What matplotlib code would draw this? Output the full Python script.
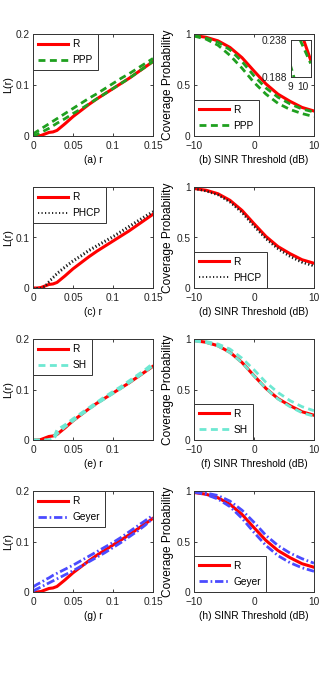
import matplotlib
matplotlib.use("Agg")
import matplotlib.pyplot as plt

plt.rcParams['font.family'] = ['Liberation Sans', 'DejaVu Sans']
plt.rcParams['axes.unicode_minus'] = True

# ---------------- data ----------------
r = [0, 0.005, 0.01, 0.015, 0.02, 0.025, 0.03, 0.04, 0.05, 0.06, 0.07,
     0.08, 0.09, 0.1, 0.11, 0.12, 0.13, 0.14, 0.15]
L_R = [0, 0, 0.001, 0.004, 0.007, 0.008, 0.011, 0.024, 0.038, 0.05, 0.062,
       0.073, 0.083, 0.093, 0.103, 0.113, 0.124, 0.135, 0.146]
L_PPP_hi = [0.004, 0.009, 0.014, 0.019, 0.024, 0.029, 0.034, 0.044, 0.054, 0.064, 0.074,
            0.083, 0.093, 0.103, 0.113, 0.122, 0.132, 0.142, 0.152]
L_PPP_lo = [0, 0.003, 0.007, 0.011, 0.015, 0.02, 0.025, 0.034, 0.044, 0.053, 0.063,
            0.073, 0.083, 0.093, 0.103, 0.113, 0.124, 0.135, 0.146]
L_PHCP_hi = [0, 0, 0, 0.004, 0.014, 0.022, 0.03, 0.043, 0.055, 0.065, 0.076,
             0.085, 0.094, 0.103, 0.113, 0.123, 0.133, 0.143, 0.152]
L_PHCP_lo = [0, 0, 0, 0.002, 0.011, 0.019, 0.027, 0.04, 0.052, 0.062, 0.073,
             0.082, 0.091, 0.1, 0.11, 0.12, 0.13, 0.14, 0.149]
L_SH_hi = [0, 0, 0, 0, 0, 0.002, 0.02, 0.03, 0.042, 0.053, 0.064,
           0.075, 0.086, 0.096, 0.106, 0.117, 0.128, 0.139, 0.152]
L_SH_lo = [0, 0, 0, 0, 0, 0, 0.012, 0.026, 0.038, 0.05, 0.061,
           0.072, 0.082, 0.092, 0.102, 0.113, 0.124, 0.135, 0.147]
L_Geyer_hi = [0.01, 0.015, 0.019, 0.024, 0.028, 0.033, 0.037, 0.045, 0.053, 0.062, 0.071,
              0.08, 0.089, 0.098, 0.108, 0.119, 0.13, 0.141, 0.152]
L_Geyer_lo = [0.002, 0.006, 0.01, 0.014, 0.018, 0.022, 0.026, 0.034, 0.042, 0.051, 0.06,
              0.069, 0.078, 0.088, 0.098, 0.109, 0.12, 0.132, 0.146]

sinr = [-10, -8, -6, -4, -2, 0, 2, 4, 6, 8, 10]
C_R = [0.985, 0.968, 0.933, 0.868, 0.768, 0.637, 0.51, 0.41, 0.34, 0.28, 0.245]
C_PPP_hi = [0.985, 0.96, 0.92, 0.845, 0.73, 0.59, 0.47, 0.38, 0.315, 0.265, 0.235]
C_PPP_lo = [0.98, 0.95, 0.89, 0.79, 0.665, 0.525, 0.41, 0.32, 0.26, 0.22, 0.19]
C_PHCP_hi = [0.985, 0.962, 0.925, 0.855, 0.752, 0.618, 0.493, 0.393, 0.318, 0.258, 0.222]
C_PHCP_lo = [0.982, 0.957, 0.918, 0.847, 0.742, 0.607, 0.482, 0.383, 0.308, 0.25, 0.214]
C_SH_hi = [0.99, 0.975, 0.95, 0.9, 0.81, 0.695, 0.57, 0.47, 0.39, 0.33, 0.29]
C_SH_lo = [0.98, 0.965, 0.93, 0.865, 0.765, 0.635, 0.51, 0.405, 0.33, 0.27, 0.235]
C_Geyer_hi = [1.0, 0.98, 0.955, 0.9, 0.81, 0.69, 0.56, 0.46, 0.385, 0.33, 0.285]
C_Geyer_lo = [0.99, 0.965, 0.92, 0.845, 0.73, 0.59, 0.46, 0.36, 0.29, 0.24, 0.205]

# inset of panel (b)
inset_R_x = [10.1, 10.7]
inset_R_y = [0.238, 0.2105]
inset_PPP_hi_x = [9.8, 10.7]
inset_PPP_hi_y = [0.238, 0.206]
inset_PPP_lo_x = [8.95, 9.3]
inset_PPP_lo_y = [0.205, 0.186]

models = ['PPP', 'PHCP', 'SH', 'Geyer']
L_hi = [L_PPP_hi, L_PHCP_hi, L_SH_hi, L_Geyer_hi]
L_lo = [L_PPP_lo, L_PHCP_lo, L_SH_lo, L_Geyer_lo]
C_hi = [C_PPP_hi, C_PHCP_hi, C_SH_hi, C_Geyer_hi]
C_lo = [C_PPP_lo, C_PHCP_lo, C_SH_lo, C_Geyer_lo]
left_letters = ['(a)', '(c)', '(e)', '(g)']
right_letters = ['(b)', '(d)', '(f)', '(h)']
left_yticks = [[0, 0.1, 0.2], [0, 0.1], [0, 0.1, 0.2], [0, 0.1, 0.2]]
left_xticks = [[0, 0.05, 0.1, 0.15], [0, 0.05, 0.1, 0.15], [0, 0.05, 0.1], [0, 0.05, 0.1, 0.15]]
left_xticklabels = [['0', '0.05', '0.1', '0.15'], ['0', '0.05', '0.1', '0.15'],
                    ['0', '0.05', '0.1'], ['0', '0.05', '0.1', '0.15']]
left_ylabels_txt = [['0', '0.1', '0.2'], ['0', '0.1'], ['0', '0.1', '0.2'], ['0', '0.1', '0.2']]

# ---------------- styles ----------------
styles = {
    'PPP': dict(color='#1fa01f', lw=2.0, linestyle=(0, (2.5, 1.6))),
    'PHCP': dict(color='#222222', lw=1.4, linestyle=(0, (0.6, 1.2))),
    'SH': dict(color='#6ee8d2', lw=2.0, linestyle=(0, (2.5, 1.6))),
    'Geyer': dict(color='#4b4bff', lw=2.0, linestyle=(0, (3.0, 1.0, 0.6, 1.0))),
}
red = dict(color='#ff0000', lw=2.2, linestyle='-')

W, H = 319, 678
fig = plt.figure(figsize=(W / 100, H / 100), dpi=100)

rows = [(34, 136), (187, 288), (339, 440), (491, 592)]
lx0, lx1 = 33, 153
rx0, rx1 = 194, 314
FS = 7.3


def add_ax(x0, x1, y0, y1):
    return fig.add_axes([x0 / W, 1 - y1 / H, (x1 - x0) / W, (y1 - y0) / H])


def style_ax(ax):
    ax.tick_params(direction='in', length=2.5, width=0.6, top=True, right=True,
                   labelsize=FS, colors='#222222')
    ax.tick_params(axis='x', pad=3.5)
    ax.tick_params(axis='y', pad=2.5)
    for s in ax.spines.values():
        s.set_linewidth(0.7)
        s.set_color('#333333')


def add_legend(ax, loc):
    leg = ax.legend(loc=loc, borderaxespad=0, fontsize=FS, handlelength=3.0,
                    fancybox=False, framealpha=1, edgecolor='#333333',
                    borderpad=0.5, labelspacing=0.6, handletextpad=0.4)
    leg.get_frame().set_linewidth(0.7)


for i, m in enumerate(models):
    y0, y1 = rows[i]
    # left: L(r)
    ax = add_ax(lx0, lx1, y0, y1)
    ax.plot(r, L_R, label='R', **red)
    ax.plot(r, L_hi[i], label=m, **styles[m])
    ax.plot(r, L_lo[i], **styles[m])
    ax.set_xlim(0, 0.15)
    ax.set_ylim(0, 0.2)
    ax.set_xticks(left_xticks[i])
    ax.set_xticklabels(left_xticklabels[i])
    ax.set_yticks(left_yticks[i])
    ax.set_yticklabels(left_ylabels_txt[i])
    style_ax(ax)
    ax.set_xlabel(left_letters[i] + ' r', fontsize=FS, labelpad=3)
    ax.set_ylabel('L(r)', fontsize=FS + 0.5, labelpad=2)
    add_legend(ax, 'upper left')

    # right: coverage probability
    ax2 = add_ax(rx0, rx1, y0, y1)
    ax2.plot(sinr, C_R, label='R', **red)
    ax2.plot(sinr, C_hi[i], label=m, **styles[m])
    ax2.plot(sinr, C_lo[i], **styles[m])
    ax2.set_xlim(-10, 10)
    ax2.set_ylim(0, 1)
    ax2.set_xticks([-10, 0, 10])
    ax2.set_yticks([0, 0.5, 1])
    ax2.set_yticklabels(['0', '0.5', '1'])
    style_ax(ax2)
    ax2.set_xlabel(right_letters[i] + ' SINR Threshold (dB)', fontsize=FS, labelpad=3)
    ax2.set_ylabel('Coverage Probability', fontsize=FS + 1.3, labelpad=2)
    add_legend(ax2, 'lower left')

    if i == 0:
        axi = add_ax(290.7, 310.7, 40, 76.7)
        axi.plot(inset_R_x, inset_R_y, **red)
        axi.plot(inset_PPP_hi_x, inset_PPP_hi_y, **styles['PPP'])
        axi.plot(inset_PPP_lo_x, inset_PPP_lo_y, **styles['PPP'])
        axi.set_xlim(9, 10.7)
        axi.set_ylim(0.188, 0.238)
        axi.set_xticks([9, 10])
        axi.set_yticks([0.188, 0.238])
        axi.set_yticklabels(['0.188', '0.238'])
        style_ax(axi)
        axi.tick_params(length=0)
        axi.tick_params(axis='x', pad=4)

fig.savefig('out.png', dpi=100)
